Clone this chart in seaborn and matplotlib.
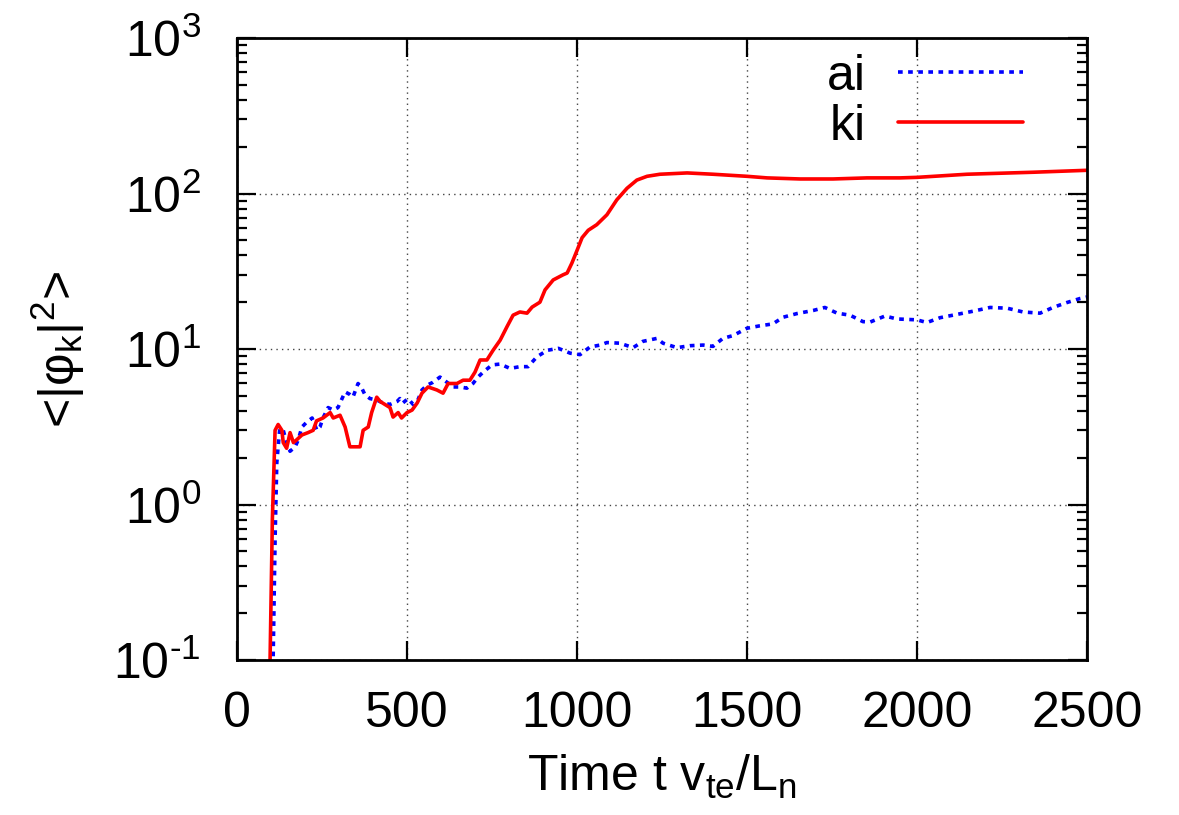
import numpy as np
import pandas as pd
import seaborn as sns
import matplotlib.pyplot as plt
from matplotlib.ticker import LogLocator, NullFormatter, MultipleLocator, FuncFormatter

# values
t_ki = [95, 104, 112, 121, 132, 136, 146, 156, 166, 175, 191, 209, 224, 234, 253, 274,
        283, 303, 318, 332, 362, 371, 386, 396, 411, 421, 435, 450, 459, 474, 484, 500,
        515, 530, 544, 562, 588, 606, 621, 647, 665, 685, 700, 715, 735, 753, 774, 794,
        812, 832, 853, 868, 891, 906, 930, 959, 971, 985, 1000, 1015, 1033, 1058, 1088,
        1117, 1147, 1176, 1206, 1244, 1324, 1400, 1500, 1559, 1656, 1753, 1853, 1950,
        2000, 2147, 2342, 2500]
phi_ki = [0.05, 0.8, 3.0, 3.27, 3.0, 2.5, 2.3, 2.9, 2.5, 2.6, 2.8, 2.9, 3.0, 3.45, 3.6, 3.9,
          3.6, 3.75, 3.15, 2.35, 2.35, 3.0, 3.15, 3.9, 4.9, 4.6, 4.4, 4.2, 3.65, 3.9, 3.6, 3.9,
          4.05, 4.5, 5.2, 5.7, 5.45, 5.2, 6.0, 6.0, 6.3, 6.3, 7.1, 8.5, 8.5, 9.8, 11.4, 13.9,
          16.5, 17.3, 17.0, 18.6, 20.0, 24.0, 27.8, 30.0, 30.8, 35.7, 43.0, 52.0, 58.0, 63.0, 73.0,
          91.0, 108.0, 122.0, 129.0, 133.0, 135.6, 133.0, 129.0, 126.0, 124.0, 124.0, 126.0, 126.0,
          127.0, 133.0, 137.0, 141.0]

t_ai = [104, 112, 117, 121, 126, 136, 146, 156, 171, 180, 191, 206, 221, 235, 244, 253,
        268, 283, 297, 309, 318, 332, 341, 356, 367, 376, 391, 411, 429, 450, 471, 479,
        488, 503, 518, 532, 544, 559, 576, 597, 618, 635, 656, 676, 694, 709, 724, 750,
        774, 803, 832, 856, 882, 912, 945, 980, 1009, 1038, 1068, 1088, 1126, 1165, 1194,
        1235, 1253, 1294, 1332, 1371, 1400, 1429, 1459, 1500, 1538, 1576, 1606, 1647, 1695,
        1729, 1765, 1803, 1841, 1862, 1906, 1941, 2000, 2029, 2068, 2118, 2165, 2215, 2265,
        2312, 2362, 2400, 2441, 2479, 2500]
phi_ai = [0.05, 0.6, 1.85, 2.35, 3.1, 3.0, 2.5, 2.2, 2.35, 2.6, 3.15, 3.4, 3.6, 3.0, 3.15, 3.6,
          4.2, 4.05, 4.2, 4.8, 5.3, 5.1, 4.9, 6.0, 5.6, 5.1, 4.8, 4.7, 4.5, 4.4, 4.6, 4.8,
          4.5, 4.8, 4.4, 4.7, 5.45, 5.85, 6.1, 6.6, 6.1, 5.7, 5.7, 5.6, 6.0, 6.6, 7.1, 7.9,
          8.0, 7.5, 7.7, 7.7, 8.9, 9.8, 10.1, 9.4, 9.2, 10.3, 10.6, 11.0, 10.9, 10.2, 11.2,
          11.7, 10.9, 10.2, 10.5, 10.6, 10.4, 11.7, 12.2, 13.6, 14.1, 14.5, 16.0, 16.9, 17.7,
          18.5, 17.0, 16.5, 15.0, 14.9, 16.3, 15.6, 15.4, 14.8, 15.9, 16.7, 17.5, 18.5, 18.3,
          17.3, 17.0, 18.5, 19.9, 21.1, 21.6]

sns.set_style("ticks")
plt.rcParams['font.family'] = ['Liberation Sans', 'DejaVu Sans']
plt.rcParams['mathtext.fontset'] = 'custom'
plt.rcParams['mathtext.rm'] = 'Liberation Sans'
plt.rcParams['mathtext.it'] = 'Liberation Sans'
plt.rcParams['mathtext.bf'] = 'Liberation Sans:bold'
plt.rcParams['axes.unicode_minus'] = False
for k in ['text.color', 'axes.labelcolor', 'xtick.color', 'ytick.color', 'axes.edgecolor']:
    plt.rcParams[k] = 'black'

fs = 36
fig = plt.figure(figsize=(11.79, 8.15), dpi=100)
ax = fig.add_axes([237 / 1179, 1 - 660 / 815, 850 / 1179, 622 / 815])

sns.lineplot(x=t_ai, y=phi_ai, ax=ax, color='#0000ff', lw=2.6,
             linestyle=(0, (1.3, 1.5)), estimator=None, label='ai')
sns.lineplot(x=t_ki, y=phi_ki, ax=ax, color='#ff0000', lw=2.6,
             estimator=None, label='ki')

ax.set_yscale('log')
ax.set_xlim(0, 2500)
ax.set_ylim(0.1, 1000)
ax.xaxis.set_major_locator(MultipleLocator(500))
ax.yaxis.set_major_locator(LogLocator(base=10, numticks=10))
ax.yaxis.set_major_formatter(FuncFormatter(
    lambda v, _: r'10$^{\text{%d}}$' % int(round(np.log10(v)))))
ax.yaxis.set_minor_locator(LogLocator(base=10, subs=np.arange(2, 10), numticks=20))
ax.yaxis.set_minor_formatter(NullFormatter())

ax.tick_params(which='both', direction='in', top=True, right=True, width=1.6, labelsize=fs)
ax.tick_params(which='major', length=14)
ax.tick_params(axis='x', which='major', pad=22)
ax.tick_params(axis='y', which='major', pad=26)
ax.tick_params(which='minor', length=7)
ax.tick_params(axis='x', which='minor', bottom=False, top=False)
for s in ax.spines.values():
    s.set_linewidth(2)

ax.grid(True, which='major', linestyle=(0, (1, 3)), color='#444444', lw=1)
ax.set_axisbelow(True)

ax.set_xlabel(r'Time t v$_{\rm te}$/L$_{\rm n}$', fontsize=fs, labelpad=12)
ax.set_ylabel(r'<|φ$_{\rm k}$|$^{\rm 2}$>', fontsize=fs)
ax.yaxis.set_label_coords(-0.177, 0.5)

ax.legend(loc='upper right', bbox_to_anchor=((1023 - 237) / 850, 0.975), frameon=False,
          markerfirst=False, handlelength=2.5, handletextpad=0.65, labelspacing=0.08,
          borderpad=0, borderaxespad=0, fontsize=fs)

fig.savefig('out.png', dpi=100)
